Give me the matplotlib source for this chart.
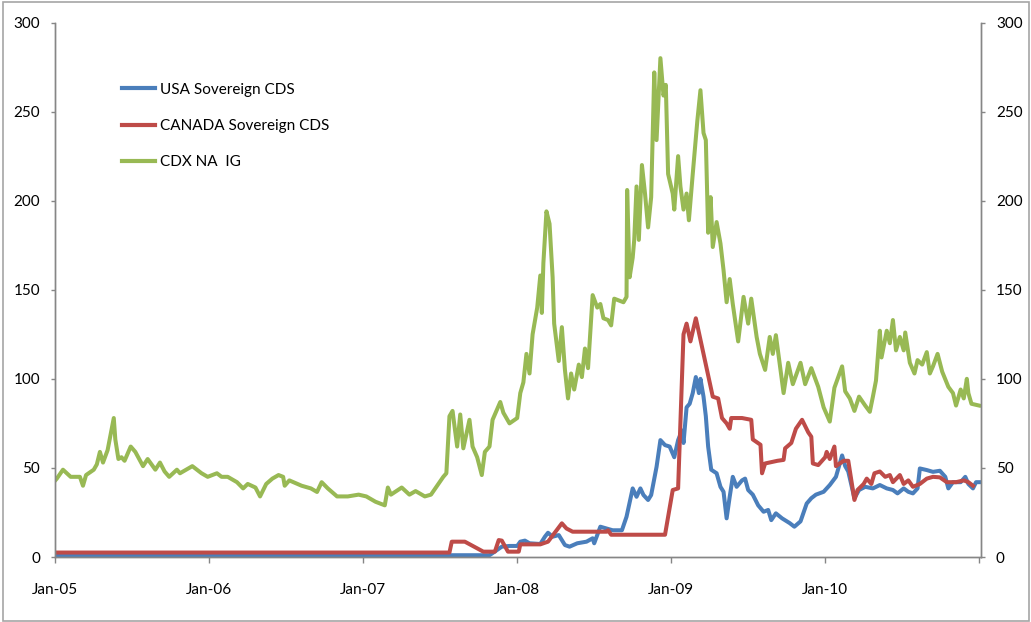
import matplotlib
matplotlib.use("Agg")
import matplotlib.pyplot as plt
from matplotlib.patches import Rectangle

plt.rcParams['font.family'] = ['Lato', 'DejaVu Sans']

# decimal years / basis points
cdx_years = [2005.00, 2005.01, 2005.05, 2005.10, 2005.16, 2005.18, 2005.20, 2005.25, 2005.27,
             2005.29, 2005.31, 2005.34, 2005.36, 2005.38, 2005.39, 2005.41, 2005.43, 2005.45,
             2005.49, 2005.52, 2005.57, 2005.60, 2005.65, 2005.68, 2005.71, 2005.74, 2005.79,
             2005.81, 2005.89, 2005.95, 2005.99, 2006.05, 2006.08, 2006.12, 2006.18, 2006.22,
             2006.25, 2006.30, 2006.33, 2006.37, 2006.41, 2006.45, 2006.48, 2006.49, 2006.52,
             2006.60, 2006.66, 2006.70, 2006.73, 2006.77, 2006.83, 2006.90, 2006.97, 2007.02,
             2007.08, 2007.14, 2007.16, 2007.18, 2007.25, 2007.30, 2007.34, 2007.40, 2007.44,
             2007.48, 2007.52, 2007.54, 2007.56, 2007.58, 2007.61, 2007.63, 2007.65, 2007.67,
             2007.69, 2007.71, 2007.74, 2007.77, 2007.79, 2007.82, 2007.84, 2007.89, 2007.91,
             2007.95, 2008.00, 2008.02, 2008.04, 2008.06, 2008.08, 2008.10, 2008.13, 2008.15,
             2008.16, 2008.17, 2008.19, 2008.21, 2008.23, 2008.24, 2008.27, 2008.29, 2008.31,
             2008.33, 2008.35, 2008.37, 2008.40, 2008.42, 2008.44, 2008.46, 2008.49, 2008.52,
             2008.54, 2008.56, 2008.59, 2008.61, 2008.63, 2008.69, 2008.71, 2008.714, 2008.73,
             2008.75, 2008.76, 2008.775, 2008.79, 2008.81, 2008.83, 2008.85, 2008.87, 2008.89,
             2008.905, 2008.93, 2008.95, 2008.965, 2008.98, 2009.01, 2009.02, 2009.045, 2009.06,
             2009.08, 2009.10, 2009.115, 2009.14, 2009.17, 2009.19, 2009.21, 2009.225, 2009.24,
             2009.256, 2009.27, 2009.295, 2009.32, 2009.34, 2009.36, 2009.38, 2009.40, 2009.435,
             2009.47, 2009.50, 2009.52, 2009.555, 2009.576, 2009.61, 2009.64, 2009.66, 2009.68,
             2009.73, 2009.76, 2009.79, 2009.84, 2009.87, 2009.91, 2009.955, 2009.99, 2010.03,
             2010.06, 2010.11, 2010.13, 2010.16, 2010.19, 2010.22, 2010.26, 2010.29, 2010.31,
             2010.33, 2010.355, 2010.366, 2010.40, 2010.42, 2010.44, 2010.46, 2010.485, 2010.51,
             2010.52, 2010.55, 2010.58, 2010.60, 2010.63, 2010.66, 2010.68, 2010.70, 2010.73,
             2010.76, 2010.80, 2010.83, 2010.85, 2010.88, 2010.90, 2010.92, 2010.93, 2010.95,
             2011.00]
cdx_values = [43, 44, 49, 45, 45, 40, 46, 49, 52,
              59, 53, 60, 69, 78, 66, 55, 56, 54,
              62, 59, 51, 55, 49, 53, 48, 45, 49,
              47, 51, 47, 45, 47, 45, 45, 42, 38.5,
              41, 39, 34, 41, 44, 46, 45, 40, 43,
              40, 38.5, 36.5, 42, 38.5, 34, 34, 35, 34,
              31, 29, 39, 35, 39, 35, 37, 34, 35,
              40, 45, 47, 79, 82, 62, 80, 61, 69,
              77, 62, 56, 46, 59, 62, 77, 87, 81,
              75, 78, 92, 98, 114, 103, 125, 140, 158,
              137, 165, 194, 187, 157, 131, 110, 129, 105,
              89, 103, 94, 108, 101, 117, 106, 147, 140,
              142, 134, 133, 130, 145, 143, 146, 206, 157,
              168, 178, 208, 178, 220, 204, 185, 202, 272,
              234, 280, 259, 265, 215, 204, 195, 225, 208,
              195, 204, 189, 215, 245, 262, 238, 234, 182,
              202, 174, 188, 176, 161, 143, 156, 142, 121,
              146, 131, 145, 123.5, 114, 105, 123.5, 114, 124.5,
              92, 109, 97, 109, 97, 106, 95.5, 84, 76,
              95, 107, 93, 89, 82, 90, 85, 81.5, 90,
              99, 127, 112, 127, 120, 133, 116, 123.5, 116,
              126, 109, 103, 110.5, 108, 115, 103, 107, 114,
              104, 95.5, 92, 85, 94, 89, 100, 92, 86,
              85]

canada_years = [2005.00, 2007.43, 2007.56, 2007.575, 2007.66, 2007.78, 2007.855, 2007.88, 2007.90,
                2007.94, 2008.01, 2008.02, 2008.15, 2008.20, 2008.29, 2008.32, 2008.36, 2008.58,
                2008.59, 2008.61, 2008.96, 2009.01, 2009.045, 2009.08, 2009.10, 2009.125, 2009.16,
                2009.27, 2009.305, 2009.33, 2009.36, 2009.38, 2009.39, 2009.46, 2009.52, 2009.53,
                2009.58, 2009.59, 2009.61, 2009.69, 2009.73, 2009.74, 2009.78, 2009.81, 2009.85,
                2009.89, 2009.91, 2009.92, 2009.955, 2010.00, 2010.01, 2010.03, 2010.06, 2010.07,
                2010.12, 2010.15, 2010.17, 2010.19, 2010.21, 2010.25, 2010.27, 2010.30, 2010.32,
                2010.355, 2010.39, 2010.42, 2010.44, 2010.485, 2010.51, 2010.54, 2010.57, 2010.615,
                2010.66, 2010.70, 2010.745, 2010.79, 2010.85, 2010.90, 2010.93, 2010.96]
canada_values = [2.5, 2.5, 2.5, 8.6, 8.6, 3, 3, 9.5, 9.2,
                 3, 3, 7.1, 7.1, 8.6, 18.9, 16, 14.2, 14.2,
                 15, 12.5, 12.5, 37.6, 38.5, 125, 131, 121, 134,
                 90, 89, 78, 75, 72, 78, 78, 77, 66,
                 63, 47, 52.5, 54, 54.5, 61, 64, 72, 77,
                 70, 67.5, 52.5, 51.6, 56, 59, 55, 62, 51,
                 54, 54, 43, 32, 37.6, 41, 44, 41, 47,
                 48, 45, 46, 42, 46, 41, 43, 39.4, 41,
                 44, 45, 44.7, 42, 42, 43, 42, 40]

usa_years = [2005.00, 2007.43, 2007.82, 2007.87, 2007.90, 2007.95, 2008.00, 2008.02, 2008.05,
             2008.08, 2008.15, 2008.18, 2008.20, 2008.23, 2008.27, 2008.31, 2008.34, 2008.39,
             2008.45, 2008.49, 2008.50, 2008.54, 2008.58, 2008.62, 2008.68, 2008.71, 2008.75,
             2008.775, 2008.80, 2008.82, 2008.85, 2008.87, 2008.905, 2008.93, 2008.96, 2008.99,
             2009.02, 2009.045, 2009.07, 2009.08, 2009.10, 2009.12, 2009.14, 2009.16, 2009.18,
             2009.19, 2009.21, 2009.225, 2009.24, 2009.26, 2009.295, 2009.32, 2009.34, 2009.36,
             2009.38, 2009.40, 2009.425, 2009.46, 2009.48, 2009.50, 2009.53, 2009.565, 2009.60,
             2009.63, 2009.65, 2009.68, 2009.72, 2009.77, 2009.80, 2009.84, 2009.88, 2009.91,
             2009.94, 2009.99, 2010.03, 2010.07, 2010.11, 2010.13, 2010.15, 2010.19, 2010.22,
             2010.26, 2010.31, 2010.355, 2010.40, 2010.44, 2010.47, 2010.51, 2010.54, 2010.57,
             2010.60, 2010.615, 2010.66, 2010.70, 2010.745, 2010.78, 2010.80, 2010.83, 2010.88,
             2010.91, 2010.93, 2010.96, 2010.98, 2011.00]
usa_values = [0.8, 1, 1, 4, 5.8, 6.2, 6.2, 8.6, 9.2,
              7.7, 7.3, 11.4, 13.6, 11.4, 12.3, 6.7, 5.8, 7.7,
              8.6, 10.5, 7.7, 17, 16, 15, 15, 22.6, 38.5,
              33.8, 38.5, 34.8, 32, 34.8, 50.6, 65.6, 62.8, 62,
              56, 65.6, 71, 64, 84, 86, 92, 101, 92,
              100, 90, 79, 62, 49, 47, 39.4, 36.6, 21.7,
              33.8, 45, 39.4, 43, 44, 37.6, 35, 29, 25.4,
              26.4, 20.7, 24.5, 21.7, 19, 17, 20, 30, 33,
              35, 36.6, 40.4, 45, 57, 51, 48, 33, 37.6,
              39.4, 38.5, 40.4, 38.5, 37.6, 35.7, 38.5, 36.6, 35.7,
              38.5, 49.7, 48.8, 47.8, 48.4, 45, 38.5, 42, 42,
              45, 41, 38.5, 42, 42]

tick_years = [2005, 2006, 2007, 2008, 2009, 2010, 2011]
tick_labels = ['Jan-05', 'Jan-06', 'Jan-07', 'Jan-08', 'Jan-09', 'Jan-10', '']
y_ticks = [0, 50, 100, 150, 200, 250, 300]

axis_grey = '#868686'

fig = plt.figure(figsize=(10.31, 6.22), dpi=100)
ax = fig.add_axes([0.0536, 0.1045, 0.8976, 0.8593])

ax.plot(usa_years, usa_values, color='#4A7EBB', lw=2.9, label='USA Sovereign CDS',
        solid_joinstyle='round')
ax.plot(canada_years, canada_values, color='#BE4B48', lw=2.9, label='CANADA Sovereign CDS',
        solid_joinstyle='round')
ax.plot(cdx_years, cdx_values, color='#98B954', lw=2.9, label='CDX NA  IG',
        solid_joinstyle='round')

ax.set_xlim(2005, 2011.01)
ax.set_ylim(0, 300)
ax.set_xticks(tick_years)
ax.set_xticklabels(tick_labels)
ax.set_yticks(y_ticks)

ax2 = ax.twinx()
ax2.set_ylim(0, 300)
ax2.set_yticks(y_ticks)

for a in (ax, ax2):
    a.spines['top'].set_visible(False)
    for s in ('left', 'right', 'bottom'):
        a.spines[s].set_color(axis_grey)
        a.spines[s].set_linewidth(1.0)
    a.tick_params(colors=axis_grey, labelcolor='black', labelsize=11, width=1.0)

ax.tick_params(axis='y', direction='out', length=3, pad=8)
ax.tick_params(axis='x', direction='out', length=4.5, pad=14)
ax2.tick_params(axis='y', direction='out', length=3, pad=8)

leg = ax.legend(loc='upper left', bbox_to_anchor=(0.118, 0.867), bbox_transform=fig.transFigure,
                frameon=False, fontsize=11, handlelength=2.2, handletextpad=0.3,
                labelspacing=1.45, borderpad=0, borderaxespad=0)
for line in leg.get_lines():
    line.set_linewidth(3)

fig.patches.append(Rectangle((0.0025, 0.002), 0.996, 0.995, transform=fig.transFigure,
                             fill=False, edgecolor='#a6a6a6', lw=1.2))

fig.savefig('out.png', dpi=100)
